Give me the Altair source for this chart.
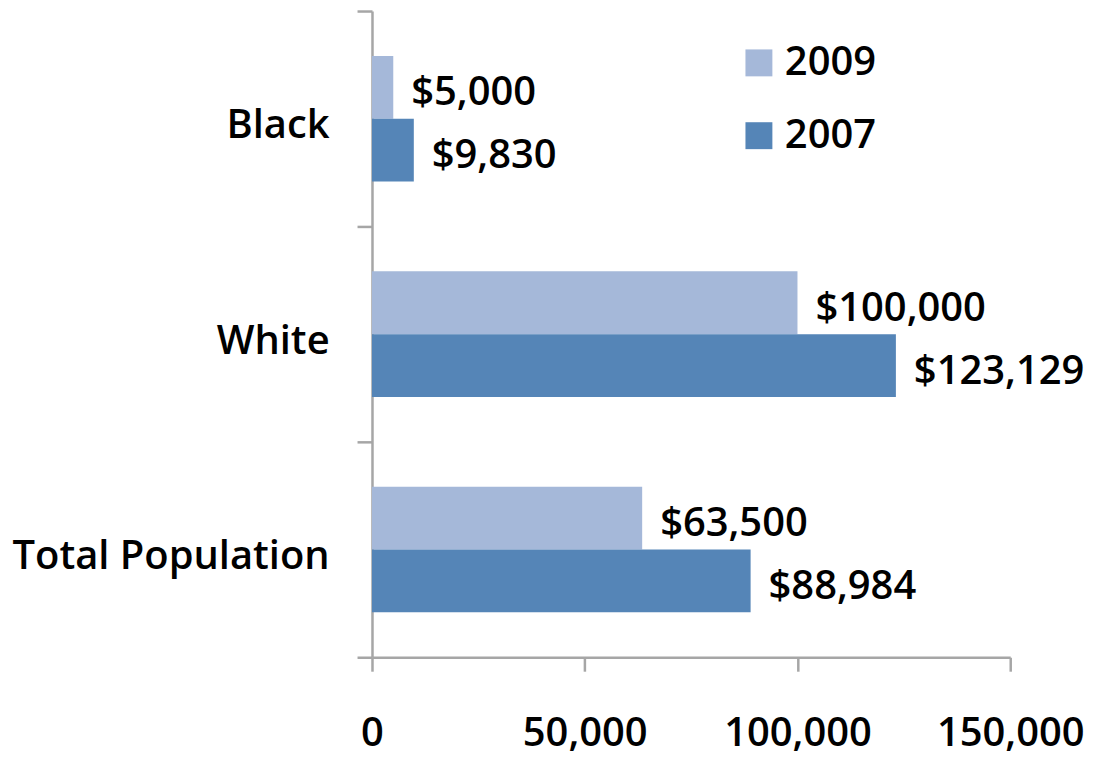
import altair as alt
import pandas as pd

groups = ["Black", "White", "Total Population"]
years = ["2009", "2007"]
values_2009 = [5000, 100000, 63500]
values_2007 = [9830, 123129, 88984]
x_ticks = [0, 50000, 100000, 150000]
colors = ["#A5B8D9", "#5585B7"]

rows = []
for g, v9, v7 in zip(groups, values_2009, values_2007):
    rows.append({"group": g, "year": "2009", "value": v9})
    rows.append({"group": g, "year": "2007", "value": v7})
df = pd.DataFrame(rows)

FONT = "Open Sans"
FS = 40
FW = 600

y_enc = alt.Y(
    "group:N",
    sort=groups,
    scale=alt.Scale(paddingInner=0, paddingOuter=0),
    axis=alt.Axis(
        title=None,
        tickBand="extent",
        tickSize=15,
        tickWidth=2.5,
        tickColor="#A6A6A6",
        domainColor="#A6A6A6",
        domainWidth=2.5,
        labelFontSize=FS,
        labelFont=FONT,
        labelFontWeight=FW,
        labelColor="#000000",
        labelPadding=28,
        labelOffset=7,
        labelLimit=400,
    ),
)
x_enc = alt.X(
    "value:Q",
    scale=alt.Scale(domain=[0, 150000], nice=False),
    axis=alt.Axis(
        title=None,
        values=x_ticks,
        format=",.0f",
        grid=False,
        tickSize=14,
        tickWidth=2.5,
        tickColor="#A6A6A6",
        domainColor="#A6A6A6",
        domainWidth=2.5,
        labelFontSize=FS,
        labelFont=FONT,
        labelFontWeight=FW,
        labelColor="#000000",
        labelPadding=43,
        labelFlush=False,
        labelOverlap=False,
    ),
)

color_enc = alt.Color(
    "year:N",
    scale=alt.Scale(domain=years, range=colors),
    legend=alt.Legend(
        title=None,
        orient="none",
        legendX=368,
        legendY=32,
        symbolType="square",
        symbolSize=729,
        symbolStrokeWidth=0,
        labelFontSize=FS,
        labelFont=FONT,
        labelFontWeight=FW,
        labelColor="#000000",
        labelOffset=6,
        rowPadding=33,
    ),
)

yoff = alt.YOffset(
    "year:N", sort=years, scale=alt.Scale(paddingInner=0, paddingOuter=0.714)
)

bars = alt.Chart(df).mark_bar().encode(
    y=y_enc, x=x_enc, color=color_enc, yOffset=yoff
)

labels = alt.Chart(df).mark_text(
    align="left", baseline="middle", dx=18, dy=6, fontSize=FS, font=FONT,
    fontWeight=FW, color="#000000"
).encode(
    y=alt.Y("group:N", sort=groups),
    x="value:Q",
    yOffset=yoff,
    text=alt.Text("value:Q", format="$,.0f"),
)

chart = (
    alt.layer(bars, labels)
    .properties(
        width=640,
        height=648,
        autosize=alt.AutoSizeParams(type="none"),
        padding={"left": 365, "top": 2, "right": 80, "bottom": 100},
    )
    .configure_view(stroke=None)
)

chart.save("out.html", embed_options={"renderer": "svg", "actions": False})
